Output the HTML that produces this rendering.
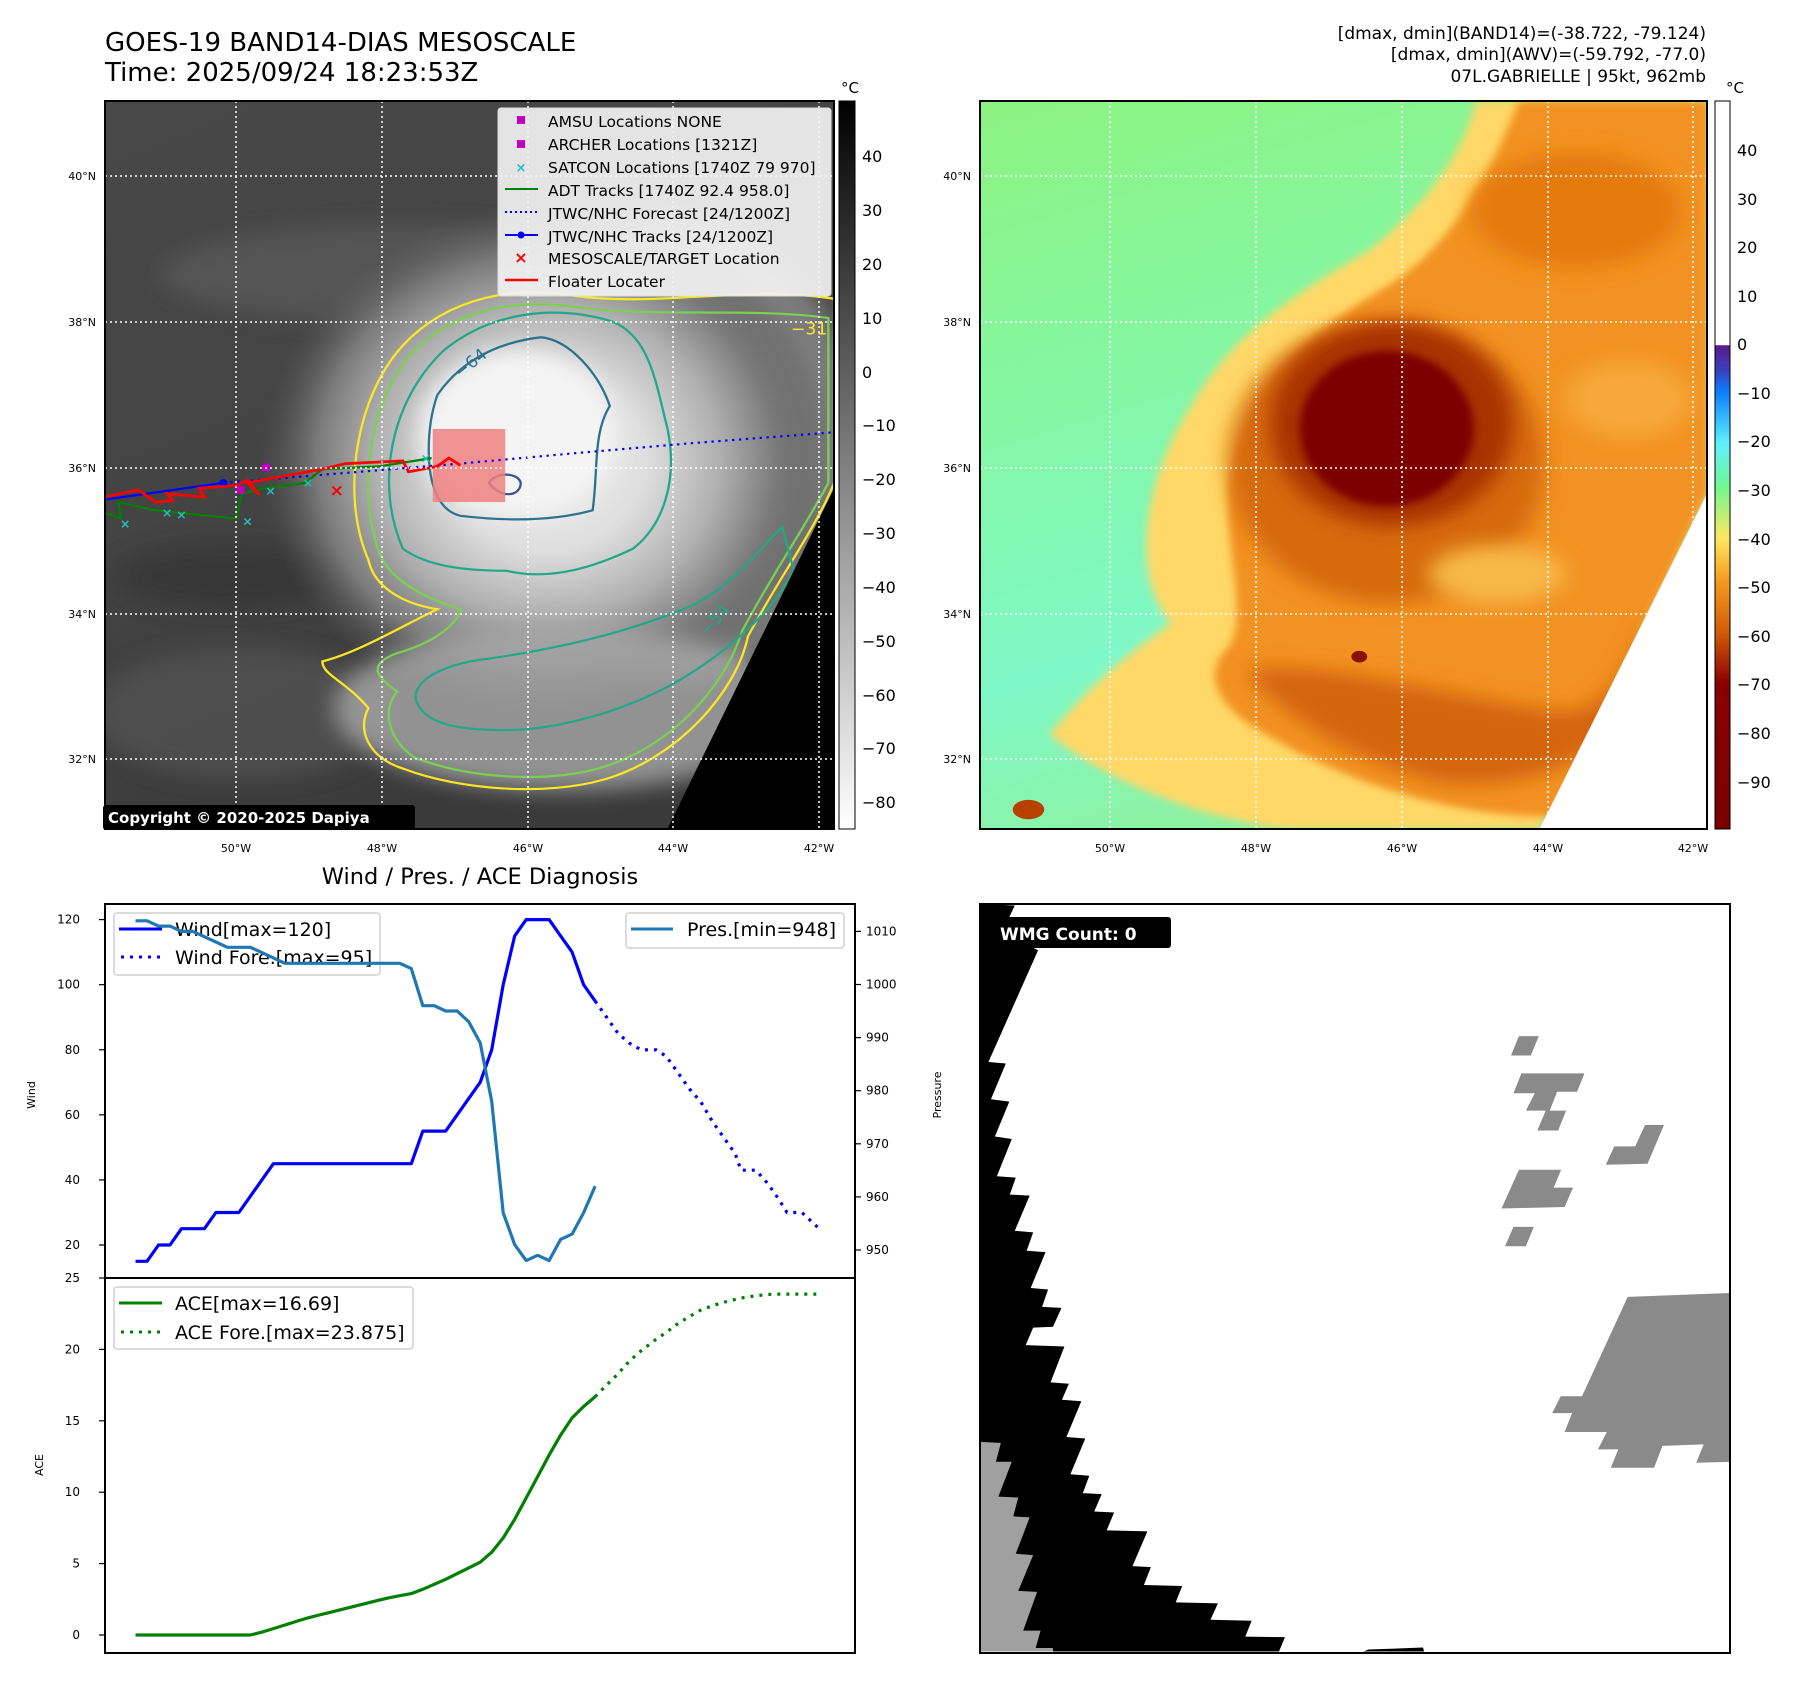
<!DOCTYPE html>
<html><head><meta charset="utf-8">
<style>
html,body{margin:0;padding:0;background:#fff;}
body{width:1797px;height:1690px;overflow:hidden;position:relative;font-family:"DejaVu Sans","Liberation Sans",sans-serif;}
svg text{font-family:"DejaVu Sans","Liberation Sans",sans-serif;}
</style></head>
<body>
<svg id="root" width="1797" height="1690" viewBox="0 0 1797 1690" xmlns="http://www.w3.org/2000/svg">
<defs>
<clipPath id="clipL"><rect x="105" y="101" width="729" height="728"/></clipPath>
<clipPath id="clipR"><rect x="980" y="101" width="727" height="728"/></clipPath>
<clipPath id="clipB"><rect x="980" y="904" width="750" height="749"/></clipPath>
<filter id="b8" x="-20%" y="-20%" width="140%" height="140%"><feGaussianBlur stdDeviation="8"/></filter>
<filter id="b20" x="-30%" y="-30%" width="160%" height="160%"><feGaussianBlur stdDeviation="20"/></filter>
<radialGradient id="stormG" cx="0.5" cy="0.5" r="0.5">
<stop offset="0" stop-color="#f2f2f2"/><stop offset="0.35" stop-color="#dedede"/><stop offset="0.6" stop-color="#b0b0b0"/><stop offset="0.8" stop-color="#7a7a7a"/><stop offset="1" stop-color="#555" stop-opacity="0"/>
</radialGradient>
<linearGradient id="bgL" x1="0" y1="0" x2="0.4" y2="1">
<stop offset="0" stop-color="#484848"/><stop offset="0.5" stop-color="#444"/><stop offset="1" stop-color="#3a3a3a"/>
</linearGradient>
<linearGradient id="bgR" x1="0" y1="0" x2="0.3" y2="1">
<stop offset="0" stop-color="#8cf380"/><stop offset="0.45" stop-color="#84f7a8"/><stop offset="0.75" stop-color="#7ff8c8"/><stop offset="1" stop-color="#8ef2a0"/>
</linearGradient>
<linearGradient id="cbL" x1="0" y1="0" x2="0" y2="1">
<stop offset="0" stop-color="#000"/><stop offset="1" stop-color="#fff"/>
</linearGradient>
<linearGradient id="cbR" x1="0" y1="0" x2="0" y2="1">
<stop offset="0" stop-color="#fff"/><stop offset="0.335" stop-color="#fff"/>
<stop offset="0.336" stop-color="#5a1a8a"/><stop offset="0.37" stop-color="#3a40c0"/><stop offset="0.40" stop-color="#0a80ff"/>
<stop offset="0.47" stop-color="#5ff0ff"/><stop offset="0.53" stop-color="#70f890"/><stop offset="0.60" stop-color="#ffe860"/>
<stop offset="0.66" stop-color="#f59a20"/><stop offset="0.73" stop-color="#d25c08"/><stop offset="0.80" stop-color="#8a0000"/><stop offset="1" stop-color="#7a0000"/>
</linearGradient>
</defs>

<!-- Titles -->
<text x="105" y="51" font-size="26" fill="#000">GOES-19 BAND14-DIAS MESOSCALE</text>
<text x="105" y="81" font-size="26" fill="#000">Time: 2025/09/24 18:23:53Z</text>
<g font-size="17" text-anchor="end" fill="#000">
<text x="1706" y="39">[dmax, dmin](BAND14)=(-38.722, -79.124)</text>
<text x="1706" y="60">[dmax, dmin](AWV)=(-59.792, -77.0)</text>
<text x="1706" y="82">07L.GABRIELLE | 95kt, 962mb</text>
</g>

<!-- LEFT MAP -->
<g clip-path="url(#clipL)">
<rect x="105" y="101" width="729" height="728" fill="url(#bgL)"/>
<g transform="translate(105,101) scale(0.575,0.5494) translate(-182,-185)">
<ellipse cx="700" cy="500" rx="420" ry="90" fill="#5c5c5c" filter="url(#b20)" opacity="0.7"/>
<ellipse cx="420" cy="1300" rx="260" ry="120" fill="#585858" filter="url(#b20)" opacity="0.6"/>
<ellipse cx="400" cy="1050" rx="200" ry="60" fill="#333" filter="url(#b20)" opacity="0.6"/>
<ellipse cx="1180" cy="820" rx="320" ry="420" fill="#8a8a8a" filter="url(#b20)" opacity="0.8"/>
<ellipse cx="950" cy="840" rx="500" ry="470" fill="url(#stormG)"/>
<ellipse cx="980" cy="1290" rx="400" ry="150" fill="#a8a8a8" filter="url(#b20)" opacity="0.8"/>
<ellipse cx="900" cy="790" rx="170" ry="150" fill="#f4f4f4" filter="url(#b20)"/>
<!-- contours -->
<path d="M640,1020 C590,900 620,720 700,630 C780,540 900,520 1000,540 C1150,560 1300,520 1450,545 L1450,880 C1420,960 1350,1060 1300,1160 C1280,1260 1180,1380 1050,1420 C950,1450 800,1440 700,1400 C640,1380 620,1330 640,1290 C600,1240 560,1230 560,1205 C620,1190 700,1140 760,1110 C700,1100 650,1070 640,1020 Z" fill="none" stroke="#fde725" stroke-width="4"/>
<path d="M660,1010 C620,900 640,740 710,650 C790,560 900,545 1000,560 C1150,580 1300,560 1440,580 L1440,880 C1400,960 1340,1050 1290,1150 C1260,1250 1170,1360 1040,1400 C950,1425 820,1420 720,1380 C680,1350 660,1300 690,1260 C650,1230 640,1210 690,1190 C760,1170 800,1130 800,1110 C740,1090 680,1060 660,1010 Z" fill="none" stroke="#7ad151" stroke-width="4"/>
<path d="M700,1000 C650,880 680,730 770,640 C850,570 960,555 1060,585 C1130,610 1140,700 1160,780 C1180,880 1150,960 1100,1000 C1040,1030 960,1060 880,1040 C800,1040 740,1030 700,1000 Z" fill="none" stroke="#22a884" stroke-width="4"/>
<path d="M730,1290 C700,1250 760,1210 850,1200 C980,1180 1100,1150 1210,1100 C1280,1060 1320,1000 1360,960 L1380,1040 C1340,1120 1260,1190 1180,1240 C1080,1300 960,1330 880,1330 C800,1330 750,1320 730,1290 Z" fill="none" stroke="#22a884" stroke-width="4"/>
<path d="M760,720 C800,660 860,625 940,615 C990,620 1040,680 1060,740 C1030,790 1040,860 1030,930 C960,950 880,950 800,940 C760,930 745,880 745,820 C745,780 750,750 760,720 Z" fill="none" stroke="#2c728e" stroke-width="4"/>
<path d="M850,880 C860,860 900,860 905,880 C905,905 870,910 850,880 Z" fill="none" stroke="#3b528b" stroke-width="4"/>
<text x="800" y="690" font-size="30" fill="#2c728e" transform="rotate(-40 800 690)">−64</text>
<text x="1230" y="1160" font-size="30" fill="#22a884" transform="rotate(-50 1230 1160)">−54</text>
<text x="1375" y="610" font-size="30" fill="#fde725">−31</text>
<!-- tracks -->
<rect x="752" y="782" width="126" height="133" fill="#f08080" opacity="0.85"/>
<polyline points="388,880 600,862 800,845 1000,826 1200,808 1450,788" fill="none" stroke="#0000ff" stroke-width="4" stroke-dasharray="4,8"/>
<polyline points="185,910 388,880" fill="none" stroke="#0000ff" stroke-width="4"/>
<circle cx="388" cy="880" r="7" fill="#0000ff"/>
<polyline points="185,935 210,945 205,915 270,930 410,945 420,900 460,890 530,880 560,855 660,850 750,835" fill="none" stroke="#008000" stroke-width="4"/>
<polyline points="185,905 240,893 270,915 300,912 290,900 355,906 345,890 410,885 430,875 450,902 430,880 560,855 600,845 700,840 710,860 760,850 780,835 800,848" fill="none" stroke="#ff0000" stroke-width="5"/>
<text x="585" y="904" font-size="30" font-weight="bold" fill="#ff0000" text-anchor="middle">×</text>
<rect x="455" y="845" width="14" height="14" fill="#c000c0"/>
<rect x="411" y="886" width="14" height="14" fill="#c000c0"/>
<g font-size="22" fill="#20c0c0" text-anchor="middle" font-weight="bold">
<text x="217" y="962">×</text><text x="290" y="942">×</text><text x="315" y="946">×</text><text x="430" y="958">×</text><text x="535" y="888">×</text><text x="470" y="902">×</text><text x="740" y="843">×</text>
</g>
<polygon points="1450,890 1450,1510 1160,1510" fill="#000"/>
</g>
<g stroke="#fff" stroke-width="1.5" stroke-dasharray="2,3">
<line x1="236" y1="101" x2="236" y2="829"/><line x1="382" y1="101" x2="382" y2="829"/><line x1="528" y1="101" x2="528" y2="829"/><line x1="673" y1="101" x2="673" y2="829"/><line x1="819" y1="101" x2="819" y2="829"/>
<line x1="105" y1="176" x2="834" y2="176"/><line x1="105" y1="322" x2="834" y2="322"/><line x1="105" y1="468" x2="834" y2="468"/><line x1="105" y1="614" x2="834" y2="614"/><line x1="105" y1="759" x2="834" y2="759"/>
</g>
</g>
<rect x="105" y="101" width="729" height="728" fill="none" stroke="#000" stroke-width="2"/>
<!-- legend -->
<g>
<rect x="498" y="108" width="333" height="188" rx="3" fill="#f2f2f2" fill-opacity="0.92" stroke="#ddd"/>
<g font-size="15.5" fill="#000">
<rect x="517" y="116" width="8" height="8" fill="#c000c0"/><text x="548" y="127">AMSU Locations NONE</text>
<rect x="517" y="140" width="8" height="8" fill="#c000c0"/><text x="548" y="150">ARCHER Locations [1321Z]</text>
<text x="521" y="172" font-size="13" fill="#20c0c0" text-anchor="middle" font-weight="bold">×</text><text x="548" y="173">SATCON Locations [1740Z 79 970]</text>
<line x1="505" y1="189" x2="538" y2="189" stroke="#008000" stroke-width="2"/><text x="548" y="196">ADT Tracks [1740Z 92.4 958.0]</text>
<line x1="505" y1="212" x2="538" y2="212" stroke="#0000ff" stroke-width="2" stroke-dasharray="2,3"/><text x="548" y="219">JTWC/NHC Forecast [24/1200Z]</text>
<line x1="505" y1="235" x2="538" y2="235" stroke="#0000ff" stroke-width="2"/><circle cx="521" cy="235" r="3.5" fill="#0000ff"/><text x="548" y="242">JTWC/NHC Tracks [24/1200Z]</text>
<text x="521" y="263" font-size="16" fill="#ff0000" text-anchor="middle" font-weight="bold">×</text><text x="548" y="264">MESOSCALE/TARGET Location</text>
<line x1="505" y1="280" x2="538" y2="280" stroke="#ff0000" stroke-width="2.5"/><text x="548" y="287">Floater Locater</text>
</g></g>
<g>
<rect x="103" y="805" width="312" height="25" rx="3" fill="#000"/>
<text x="108" y="823" font-size="15" font-weight="bold" fill="#fff">Copyright © 2020-2025 Dapiya</text>
</g>
<g font-size="11" fill="#000" text-anchor="end">
<text x="96" y="180">40°N</text><text x="96" y="326">38°N</text><text x="96" y="472">36°N</text><text x="96" y="618">34°N</text><text x="96" y="763">32°N</text>
</g>
<g font-size="11" fill="#000" text-anchor="middle">
<text x="236" y="852">50°W</text><text x="382" y="852">48°W</text><text x="528" y="852">46°W</text><text x="673" y="852">44°W</text><text x="819" y="852">42°W</text>
</g>
<g>
<rect x="839" y="101" width="16" height="728" fill="url(#cbL)" stroke="#000" stroke-width="1"/>
<text x="850" y="93" font-size="15" text-anchor="middle">°C</text>
<g font-size="16" fill="#000">
<text x="862" y="162">40</text><text x="862" y="216">30</text><text x="862" y="270">20</text><text x="862" y="324">10</text><text x="862" y="378">0</text>
<text x="862" y="431">−10</text><text x="862" y="485">−20</text><text x="862" y="539">−30</text><text x="862" y="593">−40</text><text x="862" y="647">−50</text><text x="862" y="701">−60</text><text x="862" y="754">−70</text><text x="862" y="808">−80</text>
</g></g>

<!-- RIGHT MAP -->
<g clip-path="url(#clipR)">
<rect x="980" y="101" width="727" height="728" fill="url(#bgR)"/>
<g transform="translate(980,101) scale(0.5268,0.4853) translate(-18,-25)">
<path d="M960,25 L1400,25 L1400,830 L1080,1525 L600,1525 C420,1500 250,1420 150,1330 C250,1200 320,1150 380,1100 C300,1000 330,800 420,650 C500,500 620,420 760,330 C850,250 930,150 960,25 Z" fill="#ffd868" filter="url(#b8)"/>
<path d="M1040,25 L1400,25 L1400,830 L1110,1500 C900,1500 700,1420 560,1330 C460,1270 440,1200 490,1150 C530,1080 480,950 490,820 C510,650 610,520 800,400 C900,330 980,200 1040,25 Z" fill="#f29222" filter="url(#b8)"/>
<ellipse cx="1150" cy="250" rx="200" ry="120" fill="#e57a10" filter="url(#b20)"/>
<ellipse cx="790" cy="770" rx="300" ry="290" fill="#d66a0a" filter="url(#b20)"/>
<path d="M520,1200 C650,1170 900,1250 1100,1280 C1200,1300 1250,1200 1280,1100 L1300,1200 C1250,1350 1100,1450 900,1430 C750,1400 600,1300 520,1200 Z" fill="#d4650a" filter="url(#b20)"/>
<ellipse cx="1000" cy="1000" rx="130" ry="60" fill="#f8b848" filter="url(#b20)"/>
<ellipse cx="1250" cy="640" rx="120" ry="80" fill="#f6a838" filter="url(#b20)"/>
<ellipse cx="800" cy="690" rx="230" ry="210" fill="#a83200" filter="url(#b20)"/>
<ellipse cx="790" cy="700" rx="165" ry="160" fill="#7c0000" filter="url(#b8)"/>
<ellipse cx="110" cy="1485" rx="30" ry="20" fill="#b84000"/>
<ellipse cx="738" cy="1170" rx="15" ry="12" fill="#8a1000"/>
<polygon points="1400,830 1400,1525 1080,1525" fill="#fff"/>
</g>
<g stroke="#fff" stroke-width="1.5" stroke-dasharray="2,3">
<line x1="1110" y1="101" x2="1110" y2="829"/><line x1="1256" y1="101" x2="1256" y2="829"/><line x1="1402" y1="101" x2="1402" y2="829"/><line x1="1548" y1="101" x2="1548" y2="829"/><line x1="1693" y1="101" x2="1693" y2="829"/>
<line x1="980" y1="176" x2="1707" y2="176"/><line x1="980" y1="322" x2="1707" y2="322"/><line x1="980" y1="468" x2="1707" y2="468"/><line x1="980" y1="614" x2="1707" y2="614"/><line x1="980" y1="759" x2="1707" y2="759"/>
</g>
</g>
<rect x="980" y="101" width="727" height="728" fill="none" stroke="#000" stroke-width="2"/>
<g font-size="11" fill="#000" text-anchor="end">
<text x="971" y="180">40°N</text><text x="971" y="326">38°N</text><text x="971" y="472">36°N</text><text x="971" y="618">34°N</text><text x="971" y="763">32°N</text>
</g>
<g font-size="11" fill="#000" text-anchor="middle">
<text x="1110" y="852">50°W</text><text x="1256" y="852">48°W</text><text x="1402" y="852">46°W</text><text x="1548" y="852">44°W</text><text x="1693" y="852">42°W</text>
</g>
<g>
<rect x="1715" y="101" width="15" height="728" fill="url(#cbR)" stroke="#000" stroke-width="1"/>
<text x="1735" y="93" font-size="15" text-anchor="middle">°C</text>
<g font-size="16" fill="#000">
<text x="1737" y="156">40</text><text x="1737" y="205">30</text><text x="1737" y="253">20</text><text x="1737" y="302">10</text><text x="1737" y="350">0</text>
<text x="1737" y="399">−10</text><text x="1737" y="447">−20</text><text x="1737" y="496">−30</text><text x="1737" y="545">−40</text><text x="1737" y="593">−50</text><text x="1737" y="642">−60</text><text x="1737" y="690">−70</text><text x="1737" y="739">−80</text><text x="1737" y="788">−90</text>
</g></g>

<!-- BOTTOM RIGHT WMG PANEL -->
<g clip-path="url(#clipB)">
<rect x="980" y="904" width="750" height="749" fill="#fff"/>
<g transform="translate(980,904) scale(0.4967) translate(-18,-27)">
<polygon fill="#000" points="18,27 88,30 62,85 135,120 35,345 70,348 40,420 77,425 48,495 82,500 52,575 90,578 78,612 118,614 88,685 125,688 112,725 150,728 120,800 155,803 143,838 182,840 165,878 125,880 110,915 188,918 160,990 197,993 183,1025 222,1028 192,1100 230,1103 200,1175 238,1178 225,1213 263,1215 248,1250 288,1252 273,1288 355,1290 325,1360 362,1362 348,1398 425,1400 412,1433 497,1435 482,1468 565,1470 552,1502 632,1503 620,1532 18,1532"/>
<polygon fill="#a0a0a0" points="18,1110 60,1112 50,1150 82,1150 55,1220 95,1222 85,1260 118,1262 90,1335 125,1338 95,1410 133,1412 105,1490 140,1490 130,1525 165,1525 165,1532 18,1532"/>
<polygon fill="#000" points="790,1532 800,1528 910,1524 912,1532"/>
<g fill="#8a8a8a">
<polygon points="1103,293 1143,293 1127,332 1087,332"/>
<polygon points="1108,368 1235,368 1220,405 1180,405 1165,443 1198,443 1182,483 1140,483 1157,443 1117,443 1135,408 1092,408"/>
<polygon points="1357,472 1395,472 1362,550 1278,552 1295,515 1337,515"/>
<polygon points="1103,562 1188,562 1173,598 1212,598 1195,637 1068,640"/>
<polygon points="1092,677 1133,677 1117,716 1075,716"/>
<polygon points="1322,818 1530,810 1530,1150 1460,1152 1475,1115 1392,1118 1375,1162 1288,1162 1303,1125 1262,1125 1280,1090 1195,1090 1210,1052 1170,1052 1187,1018 1230,1018"/>
</g>
</g>
<rect x="988" y="917" width="183" height="31" rx="3" fill="#000"/>
<text x="1000" y="940" font-size="17" font-weight="bold" fill="#fff">WMG Count: 0</text>
</g>
<rect x="980" y="904" width="750" height="749" fill="none" stroke="#000" stroke-width="2"/>

<!-- BOTTOM LEFT CHART -->
<text x="480" y="884" font-size="22.5" text-anchor="middle">Wind / Pres. / ACE Diagnosis</text>
<g id="chart"></g>
</svg>

<script>
// ---- chart data ----
var windIdx = [0,1,2,3,4,5,6,7,8,9,10,11,12,13,14,15,16,17,18,19,20,21,22,23,24,25,26,27,28,29,30,31,32,33,34,35,36,37,38,39,40];
var windObs = [15,15,20,20,25,25,25,30,30,30,35,40,45,45,45,45,45,45,45,45,45,45,45,45,45,55,55,55,60,65,70,80,100,115,120,120,120,115,110,100,95];
var presObs = [1012,1012,1011,1011,1010,1010,1009,1008,1007,1007,1007,1006,1005,1004,1004,1004,1004,1004,1004,1004,1004,1004,1004,1004,1003,996,996,995,995,993,989,978,957,951,948,949,948,952,953,957,962];
var aceObs = [0,0,0,0,0,0,0,0,0,0,0,0.2,0.45,0.7,0.95,1.2,1.4,1.6,1.8,2.0,2.2,2.4,2.6,2.75,2.9,3.2,3.55,3.9,4.3,4.7,5.1,5.8,6.8,8.1,9.6,11.1,12.6,14.0,15.2,16.0,16.69];
var foreIdx = [40,41,42,43,44,45.3,46.2,47.2,48.2,49.2,50.2,51.2,52.2,52.7,54,55,56,56.7,58,59.5];
var windFore = [95,90,85,82,80,80,78,73,68,64,58,53,48,43,43,39,34,30,30,25];
var aceFore = [16.69,17.5,18.3,19.2,19.9,20.7,21.2,21.8,22.3,22.75,23.05,23.3,23.5,23.6,23.75,23.85,23.875,23.875,23.875,23.875];
var windTicks = [20,40,60,80,100,120];
var presTicks = [950,960,970,980,990,1000,1010];
var aceTicks = [0,5,10,15,20,25];
var legendWind = ["Wind[max=120]","Wind Fore.[max=95]"];
var legendPres = ["Pres.[min=948]"];
var legendAce = ["ACE[max=16.69]","ACE Fore.[max=23.875]"];

// ---- axis functions ----
function xs(i){return 135.5 + i*11.49;}
function yWind(v){return 919.6 + (120 - v)*3.254;}
function yPres(p){return 931.4 + (1010 - p)*5.31;}
function yAce(a){return 1635 - a*14.28;}

var NS='http://www.w3.org/2000/svg';
var chart=document.getElementById('chart');
function mk(tag,attrs,parent){var e=document.createElementNS(NS,tag);for(var k in attrs)e.setAttribute(k,attrs[k]);(parent||chart).appendChild(e);return e;}
function pts(xa,ya,f){var s=[];for(var i=0;i<xa.length;i++)s.push(xs(xa[i]).toFixed(1)+','+f(ya[i]).toFixed(1));return s.join(' ');}

var p1=mk('rect',{x:105,y:904,width:750,height:374,fill:'#fff'});


var p2=mk('rect',{x:105,y:1278,width:750,height:375,fill:'#fff'});



windTicks.forEach(function(t){
  var y=yWind(t);
  var tk=mk('line',{x1:99,y1:y,x2:105,y2:y,stroke:'#000','stroke-width':1.2});
  
  
  var tl=mk('text',{x:80,y:y+4,'font-size':12,'text-anchor':'end'});
  
  
  tl.textContent=t;
});
presTicks.forEach(function(t){
  var y=yPres(t);
  var tk=mk('line',{x1:855,y1:y,x2:861,y2:y,stroke:'#000','stroke-width':1.2});
  
  
  var tl=mk('text',{x:866,y:y+4,'font-size':12});
  
  
  tl.textContent=t;
});
aceTicks.forEach(function(t){
  var y=yAce(t);
  var tk=mk('line',{x1:99,y1:y,x2:105,y2:y,stroke:'#000','stroke-width':1.2});
  
  
  var tl=mk('text',{x:80,y:y+4,'font-size':12,'text-anchor':'end'});
  
  
  tl.textContent=t;
});
var a1=mk('text',{x:0,y:0,'font-size':11,'text-anchor':'middle',transform:'translate(35,1095) rotate(-90)'});


a1.textContent='Wind';
var a2=mk('text',{x:0,y:0,'font-size':11,'text-anchor':'middle',transform:'translate(941,1095) rotate(-90)'});


a2.textContent='Pressure';
var a3=mk('text',{x:0,y:0,'font-size':11,'text-anchor':'middle',transform:'translate(43,1465) rotate(-90)'});


a3.textContent='ACE';

var lg1=mk('g',{});


mk('rect',{x:114,y:913,width:266,height:62,rx:3,fill:'#fff','fill-opacity':0.85,stroke:'#d0d0d0','stroke-width':1.5},lg1);
mk('line',{x1:119,y1:929,x2:162,y2:929,stroke:'#0000ff','stroke-width':3},lg1);
mk('line',{x1:121,y1:957,x2:162,y2:957,stroke:'#0000ff','stroke-width':3,'stroke-dasharray':'3,6'},lg1);
var lt1=mk('text',{x:175,y:936,'font-size':19},lg1);lt1.textContent=legendWind[0];
var lt2=mk('text',{x:175,y:964,'font-size':19},lg1);lt2.textContent=legendWind[1];

var wl=mk('polyline',{points:pts(windIdx,windObs,yWind),fill:'none',stroke:'#0000ff','stroke-width':3.2,'stroke-linejoin':'round'});


var wf=mk('polyline',{points:pts(foreIdx,windFore,yWind),fill:'none',stroke:'#0000ff','stroke-width':3.2,'stroke-dasharray':'3,6'});


var pl=mk('polyline',{points:pts(windIdx,presObs,yPres),fill:'none',stroke:'#1f77b4','stroke-width':3.2,'stroke-linejoin':'round'});


var al=mk('polyline',{points:pts(windIdx,aceObs,yAce),fill:'none',stroke:'#008000','stroke-width':3.2,'stroke-linejoin':'round'});


var af=mk('polyline',{points:pts(foreIdx,aceFore,yAce),fill:'none',stroke:'#008000','stroke-width':3.2,'stroke-dasharray':'3,6'});



var lg2=mk('g',{});


mk('rect',{x:626,y:913,width:218,height:35,rx:3,fill:'#fff','fill-opacity':0.85,stroke:'#d0d0d0','stroke-width':1.5},lg2);
mk('line',{x1:631,y1:929,x2:673,y2:929,stroke:'#1f77b4','stroke-width':3},lg2);
var lt3=mk('text',{x:687,y:936,'font-size':19},lg2);lt3.textContent=legendPres[0];

var lg3=mk('g',{});


mk('rect',{x:114,y:1287,width:299,height:62,rx:3,fill:'#fff','fill-opacity':0.85,stroke:'#d0d0d0','stroke-width':1.5},lg3);
mk('line',{x1:119,y1:1303,x2:162,y2:1303,stroke:'#008000','stroke-width':3},lg3);
mk('line',{x1:121,y1:1332,x2:162,y2:1332,stroke:'#008000','stroke-width':3,'stroke-dasharray':'3,6'},lg3);
var lt4=mk('text',{x:175,y:1310,'font-size':19},lg3);lt4.textContent=legendAce[0];
var lt5=mk('text',{x:175,y:1339,'font-size':19},lg3);lt5.textContent=legendAce[1];

var f1=mk('rect',{x:105,y:904,width:750,height:374,fill:'none',stroke:'#000','stroke-width':2});


var f2=mk('rect',{x:105,y:1278,width:750,height:375,fill:'none',stroke:'#000','stroke-width':2});


</script>
</body></html>
